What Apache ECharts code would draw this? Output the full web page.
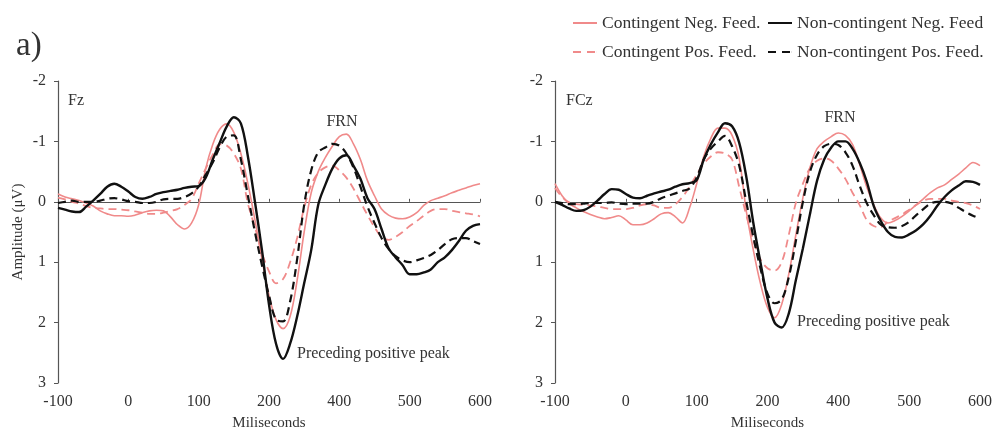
<!DOCTYPE html>
<html>
<head>
<meta charset="utf-8">
<script src="https://cdn.jsdelivr.net/npm/echarts@6/dist/echarts.min.js"></script>
<style>
  html, body { margin: 0; padding: 0; background: #ffffff; }
  #chart { width: 998px; height: 436px; }
</style>
</head>
<body>
<div id="chart"></div>
<script>
// Sample times (ms) shared by every waveform
const timesMs = [-100, -90, -80, -70, -60, -50, -40, -30, -20, -10,
  0, 10, 20, 30, 40, 50, 60, 70, 80, 90,
  100, 110, 120, 130, 140, 150, 160, 170, 180, 190,
  200, 210, 220, 230, 240, 250, 260, 270, 280, 290,
  300, 310, 320, 330, 340, 350, 360, 370, 380, 390,
  400, 410, 420, 430, 440, 450, 460, 470, 480, 490, 500];

// Tick labels printed under the time axis
const xTickLabels = ['-100', '0', '100', '200', '400', '500', '600'];

// Fz electrode (µV)
const fzContNeg = [-0.13, -0.08, -0.05, -0.02, 0.02, 0.07, 0.15, 0.2, 0.23, 0.23,
  0.24, 0.22, 0.18, 0.15, 0.14, 0.15, 0.25, 0.38, 0.45, 0.35,
  0.05, -0.55, -0.95, -1.2, -1.29, -1.15, -0.8, -0.3, 0.3, 0.95,
  1.55, 1.95, 2.1, 1.9, 1.3, 0.5, -0.15, -0.5, -0.73, -0.92,
  -1.08, -1.12, -0.96, -0.7, -0.35, -0.1, 0.12, 0.22, 0.27, 0.28,
  0.25, 0.18, 0.06, -0.02, -0.06, -0.1, -0.15, -0.19, -0.23, -0.27, -0.3];
const fzContPos = [-0.07, -0.04, 0.0, 0.03, 0.07, 0.1, 0.11, 0.12, 0.12, 0.13,
  0.14, 0.16, 0.18, 0.2, 0.2, 0.18, 0.15, 0.12, 0.05, -0.05,
  -0.3, -0.55, -0.78, -0.95, -0.93, -0.8, -0.55, 0.03, 0.42, 0.85,
  1.15, 1.35, 1.28, 1.0, 0.6, 0.1, -0.28, -0.48, -0.57, -0.6,
  -0.52, -0.4, -0.22, 0.0, 0.22, 0.42, 0.58, 0.63, 0.58, 0.5,
  0.4, 0.32, 0.23, 0.15, 0.12, 0.12, 0.15, 0.17, 0.19, 0.21, 0.24];
const fzNonContNeg = [0.1, 0.13, 0.16, 0.17, 0.08, -0.02, -0.13, -0.25, -0.3, -0.25,
  -0.17, -0.08, -0.05, -0.08, -0.13, -0.16, -0.18, -0.2, -0.23, -0.25,
  -0.26, -0.4, -0.7, -0.98, -1.25, -1.4, -1.3, -0.75, 0.0, 0.8,
  1.7, 2.35, 2.6, 2.35, 1.9, 1.35, 0.8, 0.05, -0.28, -0.55,
  -0.72, -0.77, -0.6, -0.38, -0.06, 0.12, 0.45, 0.77, 0.92, 1.05,
  1.2, 1.2, 1.17, 1.12, 1.0, 0.92, 0.8, 0.65, 0.48, 0.4, 0.37];
const fzNonContPos = [0.02, 0.0, -0.02, 0.0, 0.0, 0.0, -0.02, -0.05, -0.06, -0.04,
  -0.01, 0.0, 0.02, 0.02, 0.0, -0.04, -0.05, -0.05, -0.08, -0.14,
  -0.25, -0.45, -0.65, -0.9, -1.08, -1.1, -0.7, -0.1, 0.5, 1.05,
  1.55, 1.95, 1.98, 1.65, 0.95, 0.05, -0.52, -0.82, -0.9, -0.96,
  -0.93, -0.8, -0.57, -0.25, 0.08, 0.35, 0.6, 0.78, 0.9, 0.97,
  1.0, 0.97, 0.93, 0.88, 0.8, 0.7, 0.62, 0.6, 0.6, 0.65, 0.7];

// FCz electrode (µV)
const fczContNeg = [-0.3, -0.1, 0.03, 0.1, 0.16, 0.21, 0.25, 0.28, 0.26, 0.23,
  0.3, 0.38, 0.38, 0.35, 0.28, 0.2, 0.18, 0.25, 0.35, 0.1,
  -0.3, -0.75, -1.05, -1.22, -1.22, -1.1, -0.72, 0.15, 0.8, 1.35,
  1.75, 1.92, 1.7, 1.2, 0.55, -0.07, -0.57, -0.88, -1.0, -1.08,
  -1.14, -1.1, -0.95, -0.62, -0.25, 0.05, 0.27, 0.35, 0.31, 0.24,
  0.15, 0.05, -0.05, -0.15, -0.23, -0.28, -0.37, -0.46, -0.56, -0.65, -0.6];
const fczContPos = [-0.23, -0.08, 0.01, 0.04, 0.05, 0.06, 0.08, 0.1, 0.12, 0.12,
  0.12, 0.1, 0.06, 0.04, 0.06, 0.1, 0.1, 0.04, -0.08, -0.25,
  -0.45, -0.63, -0.75, -0.82, -0.8, -0.7, -0.25, 0.22, 0.64, 0.95,
  1.1, 1.14, 1.0, 0.55, 0.02, -0.3, -0.56, -0.68, -0.72, -0.68,
  -0.55, -0.38, -0.15, 0.05, 0.3, 0.4, 0.42, 0.33, 0.27, 0.21,
  0.13, 0.05, -0.02, -0.05, -0.05, -0.05, -0.02, 0.0, 0.02, 0.06, 0.12];
const fczNonContNeg = [0.0, 0.05, 0.11, 0.15, 0.14, 0.08, -0.02, -0.13, -0.21, -0.2,
  -0.13, -0.07, -0.06, -0.1, -0.14, -0.17, -0.2, -0.25, -0.29, -0.31,
  -0.36, -0.7, -0.95, -1.15, -1.3, -1.25, -0.98, -0.42, 0.35, 1.0,
  1.6, 2.0, 2.08, 1.85, 1.3, 0.77, 0.2, -0.35, -0.7, -0.9,
  -1.0, -1.0, -0.88, -0.65, -0.34, 0.07, 0.32, 0.5, 0.58, 0.59,
  0.54, 0.47, 0.37, 0.23, 0.06, -0.08, -0.19, -0.27, -0.34, -0.33, -0.28];
const fczNonContPos = [0.0, 0.02, 0.04, 0.04, 0.03, 0.02, 0.02, 0.02, 0.01, 0.03,
  0.04, 0.03, 0.03, 0.03, 0.0, -0.06, -0.1, -0.14, -0.18, -0.22,
  -0.4, -0.7, -0.88, -1.0, -1.09, -0.92, -0.6, 0.0, 0.58, 1.1,
  1.52, 1.68, 1.62, 1.25, 0.65, 0.0, -0.5, -0.78, -0.92, -0.96,
  -0.94, -0.82, -0.6, -0.27, 0.02, 0.22, 0.38, 0.42, 0.43, 0.4,
  0.33, 0.22, 0.12, 0.03, 0.0, 0.0, 0.03, 0.1, 0.17, 0.23, 0.28];

const SERIF = "'Liberation Serif', 'Times New Roman', serif";
const TEXT = '#333333';
const AXIS = '#555555';
const PINK = '#f08a8a';
const BLACK = '#111111';

const NAMES = {
  cNeg: 'Contingent Neg. Feed.',
  ncNeg: 'Non-contingent Neg. Feed',
  cPos: 'Contingent Pos. Feed.',
  ncPos: 'Non-contingent Pos. Feed.'
};

// Legend swatches: a plain stroke and a two-dash stroke
const ICON_SOLID = 'path://M0,0h24v2h-24z';
const ICON_DASH = 'path://M0,0h8v2h-8z M14,0h8v2h-8z M23.9,0h0.1v2h-0.1z';

const pairs = vals => timesMs.map((t, i) => [t, vals[i]]);

function grids() {
  return [
    { left: 58, right: 518, top: 81, bottom: 53 },
    { left: 555, right: 18, top: 81, bottom: 53 }
  ];
}

// Each panel gets a labelled bottom time axis and a bare axis drawn along 0 µV
function xAxes() {
  const out = [];
  [0, 1].forEach(g => {
    out.push({
      type: 'value', gridIndex: g, position: 'bottom',
      min: -100, max: 500, interval: 100,
      axisLine: { show: false, onZero: false },
      axisTick: { show: false },
      splitLine: { show: false },
      axisLabel: {
        margin: 11, fontFamily: SERIF, fontSize: 16, color: TEXT,
        formatter: v => xTickLabels[Math.round((v + 100) / 100)]
      },
      name: 'Miliseconds', nameLocation: 'middle', nameGap: 33,
      nameTextStyle: { fontFamily: SERIF, fontSize: 15, color: TEXT }
    });
    out.push({
      type: 'value', gridIndex: g, position: 'top',
      min: -100, max: 500, interval: 100,
      axisLine: { show: true, onZero: true, lineStyle: { color: AXIS, width: 1.2 } },
      axisTick: { show: true, inside: false, length: 3, lineStyle: { color: AXIS } },
      axisLabel: { show: false },
      splitLine: { show: false }
    });
  });
  return out;
}

function yAxes() {
  return [0, 1].map(g => ({
    type: 'value', gridIndex: g, inverse: true,
    min: -2, max: 3, interval: 1,
    axisLine: { show: true, onZero: false, lineStyle: { color: AXIS, width: 1.2 } },
    axisTick: { show: true, length: 4, lineStyle: { color: AXIS } },
    splitLine: { show: false },
    axisLabel: { margin: 12, fontFamily: SERIF, fontSize: 16, color: TEXT },
    name: g === 0 ? 'Amplitude (\u03BCV)' : '',
    nameLocation: 'middle', nameGap: 32, nameRotate: 90,
    nameTextStyle: { fontFamily: SERIF, fontSize: 15, color: TEXT }
  }));
}

function wave(name, vals, g, color, width, dashed) {
  return {
    type: 'line', name, xAxisIndex: g * 2, yAxisIndex: g,
    data: pairs(vals), smooth: 0.35, symbol: 'none', silent: true,
    lineStyle: {
      color, width,
      type: dashed ? [8, 5] : 'solid'
    },
    itemStyle: { color }
  };
}

const series = [];
[[0, fzContNeg, fzContPos, fzNonContNeg, fzNonContPos],
 [1, fczContNeg, fczContPos, fczNonContNeg, fczNonContPos]].forEach(([g, cn, cp, nn, np]) => {
  series.push(wave(NAMES.cPos, cp, g, PINK, 1.8, true));
  series.push(wave(NAMES.cNeg, cn, g, PINK, 1.6, false));
  series.push(wave(NAMES.ncPos, np, g, BLACK, 2.2, true));
  series.push(wave(NAMES.ncNeg, nn, g, BLACK, 2.4, false));
});

const legendBase = {
  orient: 'vertical', top: 9, itemGap: 11,
  itemWidth: 24, itemHeight: 2.4,
  textStyle: { fontFamily: SERIF, fontSize: 17.5, color: TEXT },
  selectedMode: false
};

const txt = (x, y, s, size, align) => ({
  type: 'text', x, y,
  style: {
    text: s, fontFamily: SERIF, fontSize: size, fill: TEXT,
    textAlign: align || 'left', textVerticalAlign: 'middle'
  }
});

const chart = echarts.init(document.getElementById('chart'), null, { renderer: 'canvas' });
chart.setOption({
  backgroundColor: '#ffffff',
  animation: false,
  grid: grids(),
  xAxis: xAxes(),
  yAxis: yAxes(),
  legend: [
    Object.assign({}, legendBase, {
      left: 568,
      data: [
        { name: NAMES.cNeg, icon: ICON_SOLID, itemStyle: { color: PINK } },
        { name: NAMES.cPos, icon: ICON_DASH, itemStyle: { color: PINK } }
      ]
    }),
    Object.assign({}, legendBase, {
      left: 763,
      data: [
        { name: NAMES.ncNeg, icon: ICON_SOLID, itemStyle: { color: BLACK } },
        { name: NAMES.ncPos, icon: ICON_DASH, itemStyle: { color: BLACK } }
      ]
    })
  ],
  graphic: [
    txt(16, 46, 'a)', 33),
    txt(68, 101, 'Fz', 16),
    txt(342, 122, 'FRN', 16, 'center'),
    txt(297, 354, 'Preceding positive peak', 16),
    txt(566, 101, 'FCz', 16),
    txt(840, 118, 'FRN', 16, 'center'),
    txt(797, 322, 'Preceding positive peak', 16)
  ],
  series
});
</script>
</body>
</html>
